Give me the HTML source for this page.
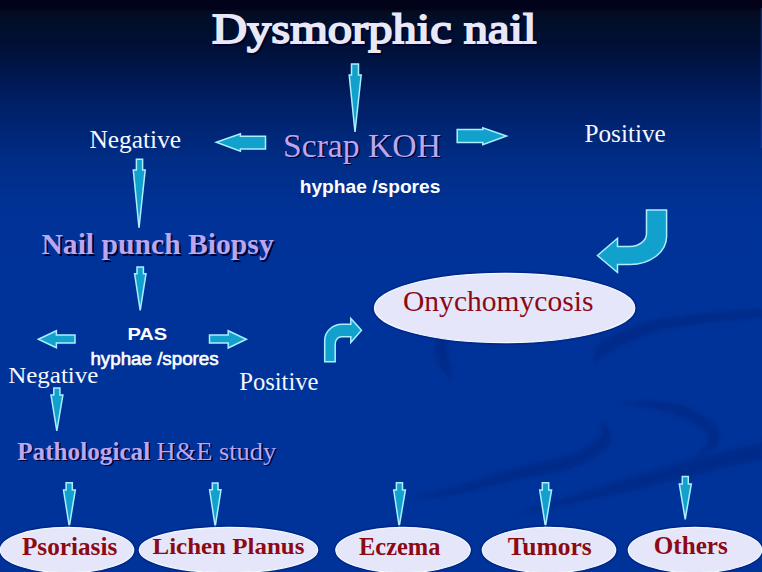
<!DOCTYPE html>
<html><head><meta charset="utf-8">
<style>
html,body{margin:0;padding:0;width:762px;height:572px;overflow:hidden;background:#003399;}
svg{display:block;}
</style></head><body>
<svg width="762" height="572" viewBox="0 0 762 572">
<defs>
<linearGradient id="bg" x1="0" y1="0" x2="0" y2="572" gradientUnits="userSpaceOnUse">
<stop offset="0.0000" stop-color="#02021a"/>
<stop offset="0.0157" stop-color="#02021a"/>
<stop offset="0.0192" stop-color="#050b1e"/>
<stop offset="0.0297" stop-color="#020d26"/>
<stop offset="0.0524" stop-color="#000f2e"/>
<stop offset="0.0787" stop-color="#001036"/>
<stop offset="0.1171" stop-color="#001548"/>
<stop offset="0.1871" stop-color="#002068"/>
<stop offset="0.2745" stop-color="#002c84"/>
<stop offset="0.3619" stop-color="#003296"/>
<stop offset="0.4720" stop-color="#003399"/>
<stop offset="1.0000" stop-color="#003399"/>
</linearGradient>
<filter id="blur" x="-20%" y="-20%" width="140%" height="140%"><feGaussianBlur stdDeviation="2.2"/></filter>
<filter id="sh" x="-10%" y="-30%" width="120%" height="160%"><feGaussianBlur stdDeviation="0.6"/></filter>
</defs>
<rect width="762" height="572" fill="url(#bg)"/>
<rect x="760.6" y="8" width="1.4" height="140" fill="#2a48b0" opacity="0.45"/>
<g fill="#002a8a" filter="url(#blur)">
<path d="M453.0,381.0L453.0,380.2L452.9,379.3L452.7,378.2L452.4,377.1L452.2,375.8L451.8,374.5L451.5,373.2L451.1,371.8L450.7,370.3L450.4,368.9L450.1,367.5L449.8,366.1L449.5,364.7L449.3,363.5L449.2,362.3L449.2,361.2L448.9,360.2L448.7,359.1L448.4,358.1L448.2,357.1L448.0,356.1L447.8,355.1L447.7,354.1L447.5,353.1L447.4,352.1L447.3,351.2L447.3,350.3L447.3,349.5L447.3,348.6L447.3,347.8L447.4,347.1L447.5,346.5L447.5,346.0L447.6,345.5L447.8,344.8L448.0,344.2L448.2,343.5L448.5,342.7L448.9,342.0L449.2,341.2L449.6,340.4L449.9,339.7L450.3,338.9L450.7,338.2L451.0,337.5L451.4,336.8L451.7,336.1L452.0,335.5L440.0,330.5L439.9,330.8L439.7,331.1L439.5,331.6L439.1,332.3L438.8,333.0L438.3,333.8L437.9,334.7L437.4,335.7L437.0,336.7L436.5,337.8L436.0,339.0L435.6,340.2L435.2,341.4L434.9,342.7L434.7,344.1L434.5,345.5L434.5,346.8L434.6,348.0L434.7,349.2L434.8,350.4L435.0,351.7L435.2,352.9L435.5,354.1L435.7,355.3L436.0,356.5L436.4,357.7L436.7,358.9L437.1,360.1L437.5,361.3L437.9,362.5L438.3,363.6L438.8,364.8L439.6,366.0L440.5,367.2L441.4,368.4L442.3,369.6L443.3,370.8L444.3,372.0L445.3,373.2L446.3,374.4L447.2,375.5L448.2,376.5L449.1,377.5L450.0,378.4L450.9,379.2L451.7,379.9L452.4,380.5L453.0,381.0Z"/>
<path d="M594.0,364.0L594.8,363.6L595.6,363.0L596.5,362.3L597.3,361.5L598.2,360.7L599.1,359.8L600.1,358.9L601.1,358.0L602.1,357.1L603.2,356.2L604.3,355.4L605.5,354.7L606.8,354.0L608.1,353.4L609.6,352.8L611.1,352.3L612.7,351.2L614.6,350.0L616.7,348.7L619.0,347.4L621.4,346.1L624.0,344.7L626.7,343.4L629.5,342.1L632.4,340.7L635.3,339.5L638.2,338.2L641.2,337.0L644.1,335.8L647.1,334.7L649.9,333.7L652.7,332.8L655.4,331.9L658.1,331.2L660.8,330.5L663.5,329.8L666.2,329.2L668.9,328.6L671.6,328.1L674.4,327.6L677.3,327.2L680.2,326.7L683.2,326.3L686.3,325.8L689.4,325.4L692.7,324.9L696.1,324.5L699.6,324.0L703.3,323.5L707.4,323.0L711.7,322.5L716.2,322.1L721.0,321.6L725.8,321.1L730.6,320.7L735.4,320.2L740.1,319.8L744.7,319.4L749.0,319.0L753.1,318.6L756.8,318.3L760.2,318.0L763.0,317.7L765.4,317.5L764.6,308.5L762.3,308.7L759.4,308.9L756.1,309.1L752.3,309.4L748.3,309.7L743.9,310.1L739.3,310.4L734.6,310.8L729.8,311.2L724.9,311.5L720.1,312.0L715.3,312.4L710.7,312.8L706.3,313.2L702.2,313.6L698.4,314.0L694.9,314.4L691.5,314.7L688.2,315.1L685.0,315.4L681.9,315.7L678.8,316.0L675.8,316.4L672.8,316.7L669.9,317.1L666.9,317.6L664.0,318.0L661.1,318.6L658.2,319.1L655.3,319.8L652.3,320.5L649.3,321.2L646.3,322.1L643.1,323.0L640.0,324.0L636.8,325.0L633.6,326.1L630.4,327.3L627.2,328.5L624.1,329.7L621.1,330.9L618.1,332.2L615.2,333.4L612.5,334.7L609.9,336.0L607.4,337.2L605.1,338.5L602.9,339.7L601.1,341.6L599.5,343.5L598.1,345.4L597.0,347.3L596.1,349.2L595.4,351.0L594.8,352.8L594.4,354.4L594.2,356.0L594.0,357.4L593.9,358.8L593.9,360.0L593.9,361.2L593.9,362.2L594.0,363.1L594.0,364.0Z"/>
<path d="M617.0,402.5L618.9,403.0L621.3,403.5L624.1,404.0L627.2,404.5L630.6,405.1L634.3,405.6L638.1,406.2L642.0,406.8L646.0,407.4L650.0,408.1L653.9,408.9L657.7,409.6L661.4,410.5L664.8,411.4L667.9,412.3L670.6,413.3L673.2,414.1L675.9,415.0L678.5,416.0L681.1,417.1L683.7,418.2L686.2,419.4L688.6,420.7L690.9,422.0L693.2,423.3L695.3,424.5L697.3,425.8L699.2,427.1L701.0,428.3L702.6,429.5L704.0,430.6L705.2,431.6L706.1,432.4L706.9,433.2L707.5,433.8L708.0,434.4L708.3,434.8L708.5,435.2L708.7,435.5L708.8,435.8L708.8,436.0L708.9,436.3L708.9,436.7L708.8,437.1L708.7,437.6L708.6,438.2L708.3,438.9L708.1,439.5L708.2,440.1L708.0,440.9L707.5,441.9L706.8,443.1L705.9,444.3L704.9,445.6L703.8,446.9L702.6,448.2L701.4,449.5L700.2,450.8L699.1,452.0L698.0,453.2L697.0,454.3L696.1,455.3L695.5,456.2L695.0,457.0L695.0,457.0L695.9,456.7L696.9,456.4L698.2,456.0L699.5,455.4L701.0,454.8L702.6,454.2L704.2,453.4L705.9,452.7L707.6,451.8L709.2,451.0L710.9,450.1L712.4,449.1L713.9,448.1L715.4,447.1L716.7,445.8L717.9,444.5L718.5,443.2L719.0,442.1L719.4,440.9L719.8,439.6L720.1,438.2L720.2,436.8L720.3,435.3L720.1,433.7L719.8,432.2L719.2,430.6L718.5,429.1L717.7,427.7L716.7,426.3L715.5,425.0L714.3,423.7L712.8,422.4L711.3,421.2L709.6,419.9L707.7,418.7L705.8,417.3L703.6,416.0L701.3,414.6L698.9,413.2L696.4,411.9L693.8,410.5L691.1,409.2L688.3,407.9L685.5,406.7L682.5,405.6L679.5,404.5L676.5,403.5L673.4,402.7L670.0,402.2L666.4,401.9L662.7,401.6L658.7,401.5L654.7,401.3L650.6,401.3L646.5,401.3L642.4,401.3L638.4,401.4L634.5,401.5L630.8,401.6L627.4,401.8L624.2,402.0L621.4,402.1L619.0,402.3L617.0,402.5Z"/>
<path d="M600.0,420.0L599.9,420.9L599.9,421.9L600.1,423.1L600.4,424.4L600.7,425.8L601.0,427.2L601.4,428.6L601.6,430.0L601.8,431.4L601.8,432.8L601.7,433.9L601.5,434.9L601.1,435.6L600.6,436.1L600.1,436.3L599.5,436.5L599.0,437.2L598.1,438.1L597.0,439.2L595.7,440.4L594.2,441.5L592.5,442.8L590.7,444.0L588.7,445.2L586.7,446.5L584.5,447.7L582.2,448.9L579.8,450.1L577.3,451.3L574.8,452.4L572.2,453.4L569.6,454.4L566.9,455.4L564.1,456.4L561.0,457.3L557.8,458.2L554.5,459.0L551.0,459.8L547.4,460.6L543.8,461.4L540.0,462.2L536.2,463.0L532.4,463.8L528.6,464.6L524.8,465.4L521.0,466.3L517.2,467.2L513.5,468.2L509.9,469.3L506.3,470.4L502.7,471.5L499.0,472.7L495.4,473.9L491.7,475.1L488.1,476.3L484.5,477.5L480.9,478.6L477.4,479.8L473.9,481.0L470.4,482.1L467.0,483.2L463.6,484.2L460.3,485.2L457.1,486.1L453.8,487.1L450.5,488.1L447.1,489.1L443.7,490.0L440.2,490.9L436.8,491.8L433.4,492.7L430.1,493.5L426.9,494.3L423.8,495.1L420.9,495.9L418.2,496.6L415.8,497.2L413.6,497.9L411.6,498.5L410.0,499.0L410.0,499.0L411.7,498.9L413.7,498.8L416.0,498.7L418.6,498.5L421.4,498.3L424.3,498.1L427.5,497.8L430.8,497.5L434.2,497.1L437.7,496.7L441.2,496.3L444.8,495.9L448.4,495.4L452.0,494.9L455.5,494.4L458.9,493.9L462.3,493.2L465.8,492.4L469.3,491.6L472.8,490.8L476.4,489.9L480.0,488.9L483.7,488.0L487.4,487.0L491.0,486.1L494.7,485.1L498.4,484.2L502.1,483.2L505.7,482.3L509.3,481.4L512.9,480.6L516.5,479.8L520.0,479.0L523.6,478.3L527.3,477.5L531.0,476.9L534.8,476.2L538.6,475.5L542.4,474.9L546.2,474.2L550.0,473.5L553.8,472.8L557.4,472.1L561.0,471.3L564.6,470.5L568.0,469.6L571.3,468.6L574.4,467.6L577.4,466.4L580.3,465.1L583.1,463.8L585.9,462.4L588.6,461.0L591.1,459.6L593.6,458.1L596.0,456.6L598.3,455.1L600.4,453.6L602.4,452.0L604.3,450.4L606.1,448.8L607.6,447.1L609.1,445.4L610.5,443.5L611.3,441.1L611.7,438.6L611.6,436.2L611.2,434.0L610.4,432.1L609.6,430.3L608.6,428.8L607.5,427.3L606.4,426.0L605.3,424.8L604.2,423.7L603.2,422.8L602.2,421.9L601.4,421.2L600.6,420.5L600.0,420.0Z"/>
<path d="M512.0,515.0L515.9,514.4L520.8,513.6L526.4,512.5L532.6,511.4L539.4,510.0L546.7,508.6L554.3,507.0L562.2,505.4L570.2,503.7L578.3,502.1L586.3,500.4L594.1,498.8L601.6,497.3L608.8,495.8L615.5,494.5L621.7,493.3L627.3,491.9L632.6,490.6L637.8,489.3L642.8,488.0L647.6,486.8L652.2,485.6L656.8,484.4L661.2,483.3L665.6,482.2L669.9,481.1L674.2,480.0L678.5,479.0L682.8,477.9L687.1,476.9L691.5,475.8L696.0,474.8L700.6,473.6L705.4,472.4L710.4,471.2L715.5,470.0L720.7,468.8L725.9,467.6L731.0,466.4L736.0,465.3L740.9,464.2L745.6,463.1L750.1,462.1L754.2,461.1L758.0,460.3L761.5,459.5L764.5,458.8L767.0,458.3L763.0,441.7L760.6,442.3L757.6,443.1L754.2,443.9L750.4,444.8L746.3,445.8L741.8,446.9L737.1,448.0L732.2,449.2L727.2,450.4L722.1,451.7L716.9,453.0L711.7,454.2L706.6,455.5L701.6,456.8L696.7,458.0L692.0,459.2L687.5,460.5L683.1,461.7L678.8,463.0L674.5,464.2L670.3,465.5L666.0,466.8L661.7,468.0L657.4,469.3L653.0,470.6L648.5,472.0L643.9,473.3L639.1,474.7L634.2,476.2L629.2,477.6L623.9,479.2L618.3,480.7L612.4,482.7L606.0,484.8L599.0,487.0L591.6,489.4L584.0,491.8L576.2,494.2L568.4,496.7L560.6,499.1L552.9,501.5L545.5,503.8L538.4,506.1L531.8,508.2L525.7,510.2L520.4,512.0L515.7,513.6L512.0,515.0Z"/>
</g>
<g fill="#12a0cc" stroke="#aaeeff" stroke-width="1.5" stroke-linejoin="miter">
<path d="M351.5,63.9H358.5V75H361.2L355,132L349.2,75H351.5Z"/>
<path d="M216.3,142.3L240.4,133.8V136.3H265.5V149.1H240.4V151.1Z"/>
<path d="M457.2,129.5H482.8V127.8L506.5,136L482.8,144.7V142.5H457.2Z"/>
<path d="M136.4,159.2H142.6V170H145.2L139,227.8L133.3,170H136.4Z"/>
<path d="M137,267H143.4V273.8H146L140.2,310.4L134.6,273.8H137Z"/>
<path d="M38.4,339.3L56.4,330.7V335.1H75V343.1H56.4V347.8Z"/>
<path d="M209.5,335.1H228.2V330.7L246.4,339.3L228.2,348V343.1H209.5Z"/>
<path d="M53.8,388.1H59.9V395.1H62.9L56.8,430.9L51,395.1H53.8Z"/>
<path d="M66.1,482.7H72.3V490.1H75.3L69.3,526.5L63.5,490.1H66.1Z"/>
<path d="M212.3,482.9H218V489.8H221L215.2,526.7L209.6,489.8H212.3Z"/>
<path d="M396.4,482.8H402.5V490H405.4L399.2,526.4L393.7,490H396.4Z"/>
<path d="M542.3,482.8H548.7V490H551.6L545.4,526.5L539.7,490H542.3Z"/>
<path d="M682.3,476.5H688.3V483.9H691.3L685.2,519.3L679.3,483.9H682.3Z"/>
<path d="M646.5,210H666.6V237A36.5,28 0 0 1 630,264.5H617.5V272.5L597.5,255.5L617.5,238.3V246.5H630A16.5,13 0 0 0 646.5,233.5Z"/>
<path d="M324.7,361.7V340A17.5,16 0 0 1 342,324.3H350.8V318.5L361.5,330.3L350.8,342.5V336.7H342A6.3,7.5 0 0 0 335.2,344.5V361.7Z"/>
</g>
<g fill="none" stroke="#002484" stroke-width="1.6" opacity="0.8">
<ellipse cx="504.6" cy="308" rx="131.7" ry="36.2"/>
<ellipse cx="67" cy="550" rx="68.2" ry="24.2"/>
<ellipse cx="228.5" cy="550" rx="90.7" ry="24.2"/>
<ellipse cx="403" cy="550" rx="68.7" ry="24.2"/>
<ellipse cx="549" cy="550" rx="68.2" ry="24.2"/>
<ellipse cx="695" cy="550" rx="68.2" ry="24.2"/>
</g>
<g fill="#e6e6fa" stroke="#f2faff" stroke-width="1.2">
<ellipse cx="504.6" cy="308" rx="130.2" ry="34.7"/>
<ellipse cx="67" cy="550" rx="66.7" ry="22.7"/>
<ellipse cx="228.5" cy="550" rx="89.2" ry="22.7"/>
<ellipse cx="403" cy="550" rx="67.2" ry="22.7"/>
<ellipse cx="549" cy="550" rx="66.7" ry="22.7"/>
<ellipse cx="695" cy="550" rx="66.7" ry="22.7"/>
</g>
<g fill="#000030" filter="url(#sh)">
<text x="213.80" y="45.20" font-size="43.00" textLength="324.55" lengthAdjust="spacingAndGlyphs" font-family='"Liberation Serif",serif' stroke="#000030" stroke-width="1.8">Dysmorphic nail</text>
<text x="284.50" y="158.10" font-size="33.59" textLength="158.01" lengthAdjust="spacingAndGlyphs" font-family='"Liberation Serif",serif'>Scrap KOH</text>
<text x="43.20" y="255.50" font-size="29.47" textLength="232.34" lengthAdjust="spacingAndGlyphs" font-family='"Liberation Serif",serif' font-weight="bold">Nail punch Biopsy</text>
<text x="18.80" y="461.20" font-size="24.73" textLength="133.05" lengthAdjust="spacingAndGlyphs" font-family='"Liberation Serif",serif' font-weight="bold">Pathological</text>
<text x="158.10" y="461.20" font-size="24.73" textLength="119.74" lengthAdjust="spacingAndGlyphs" font-family='"Liberation Serif",serif'>H&amp;E study</text>
</g>
<g>
<text class="m" id="title" x="212.00" y="43.40" font-size="43.00" textLength="324.55" lengthAdjust="spacingAndGlyphs" font-family='"Liberation Serif",serif' fill="#e8e8f6" stroke="#e8e8f6" stroke-width="1.8">Dysmorphic nail</text>
<text class="m" id="neg1" x="89.50" y="148.20" font-size="25.50" textLength="91.65" lengthAdjust="spacingAndGlyphs" font-family='"Liberation Serif",serif' fill="#f4f8ff">Negative</text>
<text class="m" id="scrap" x="283.00" y="156.60" font-size="33.59" textLength="158.01" lengthAdjust="spacingAndGlyphs" font-family='"Liberation Serif",serif' fill="#bca6ee">Scrap KOH</text>
<text class="m" id="hyph1" x="299.70" y="193.10" font-size="18.07" textLength="140.72" lengthAdjust="spacingAndGlyphs" font-family='"Liberation Sans",sans-serif' font-weight="bold" fill="#ffffff">hyphae /spores</text>
<text class="m" id="pos1" x="584.50" y="141.90" font-size="25.50" textLength="81.19" lengthAdjust="spacingAndGlyphs" font-family='"Liberation Serif",serif' fill="#f4f8ff">Positive</text>
<text class="m" id="nail" x="41.40" y="253.70" font-size="29.47" textLength="232.34" lengthAdjust="spacingAndGlyphs" font-family='"Liberation Serif",serif' font-weight="bold" fill="#bca6ee">Nail punch Biopsy</text>
<text class="m" id="pas" x="127.40" y="339.60" font-size="17.15" textLength="39.78" lengthAdjust="spacingAndGlyphs" font-family='"Liberation Sans",sans-serif' font-weight="bold" fill="#ffffff">PAS</text>
<text class="m" id="hyph2" x="90.40" y="365.10" font-size="18.48" textLength="128.30" lengthAdjust="spacingAndGlyphs" font-family='"Liberation Sans",sans-serif' fill="#ffffff" stroke="#ffffff" stroke-width="0.6">hyphae /spores</text>
<text class="m" id="neg2" x="8.20" y="383.10" font-size="24.12" textLength="90.23" lengthAdjust="spacingAndGlyphs" font-family='"Liberation Serif",serif' fill="#f4f8ff">Negative</text>
<text class="m" id="pos2" x="239.20" y="389.60" font-size="24.89" textLength="79.37" lengthAdjust="spacingAndGlyphs" font-family='"Liberation Serif",serif' fill="#f4f8ff">Positive</text>
<text class="m" id="path1" x="17.20" y="459.60" font-size="24.73" textLength="133.05" lengthAdjust="spacingAndGlyphs" font-family='"Liberation Serif",serif' font-weight="bold" fill="#bca6ee">Pathological</text>
<text class="m" id="path2" x="156.50" y="459.60" font-size="24.73" textLength="119.74" lengthAdjust="spacingAndGlyphs" font-family='"Liberation Serif",serif' fill="#bca6ee">H&amp;E study</text>
<text class="m" id="onych" x="403.00" y="311.00" font-size="29.31" textLength="190.40" lengthAdjust="spacingAndGlyphs" font-family='"Liberation Serif",serif' fill="#8c0a14">Onychomycosis</text>
<text class="m" id="psor" x="21.90" y="554.60" font-size="25.50" textLength="95.34" lengthAdjust="spacingAndGlyphs" font-family='"Liberation Serif",serif' font-weight="bold" fill="#8c0a14">Psoriasis</text>
<text class="m" id="lich" x="152.50" y="554.30" font-size="23.97" textLength="151.86" lengthAdjust="spacingAndGlyphs" font-family='"Liberation Serif",serif' font-weight="bold" fill="#8c0a14">Lichen Planus</text>
<text class="m" id="ecz" x="359.00" y="554.80" font-size="25.65" textLength="81.44" lengthAdjust="spacingAndGlyphs" font-family='"Liberation Serif",serif' font-weight="bold" fill="#8c0a14">Eczema</text>
<text class="m" id="tum" x="507.70" y="554.60" font-size="25.50" textLength="84.09" lengthAdjust="spacingAndGlyphs" font-family='"Liberation Serif",serif' font-weight="bold" fill="#8c0a14">Tumors</text>
<text class="m" id="oth" x="653.70" y="554.20" font-size="24.43" textLength="74.11" lengthAdjust="spacingAndGlyphs" font-family='"Liberation Serif",serif' font-weight="bold" fill="#8c0a14">Others</text>
</g>
</svg>
</body></html>
